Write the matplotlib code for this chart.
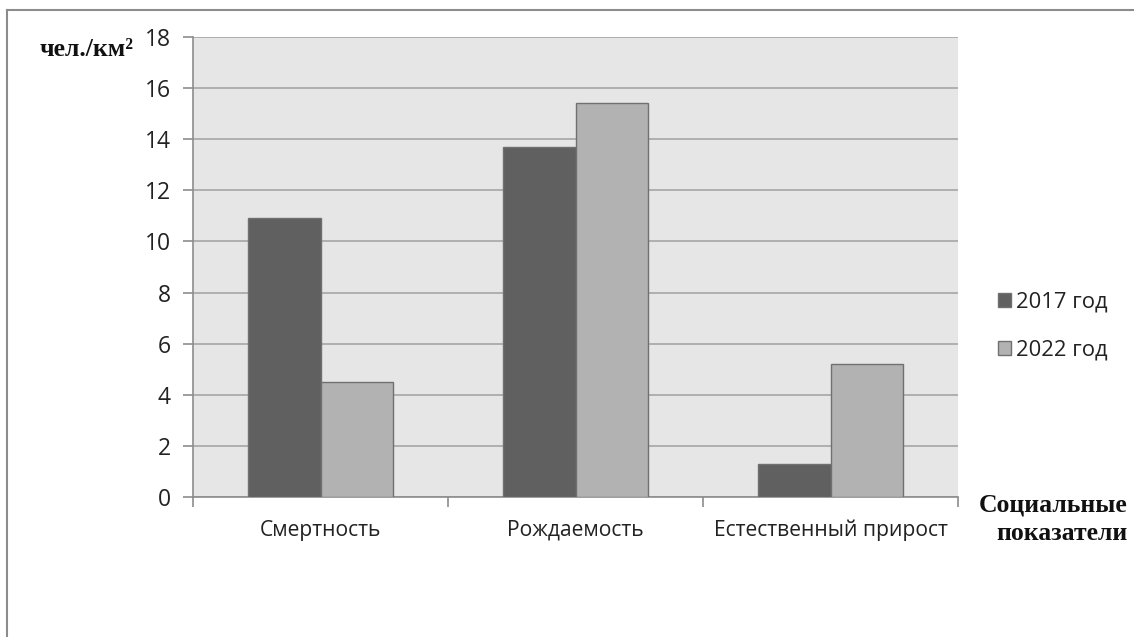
import matplotlib.pyplot as plt
import numpy as np
from matplotlib.lines import Line2D

categories = ['Смертность', 'Рождаемость', 'Естественный прирост']
values_2017 = [10.9, 13.7, 1.3]
values_2022 = [4.5, 15.4, 5.2]
series_names = ['2017 год', '2022 год']
y_ticks = [0, 2, 4, 6, 8, 10, 12, 14, 16, 18]

fig = plt.figure(figsize=(11.34, 6.37), dpi=100)
fig.patch.set_facecolor('white')

# frame of the chart area (top and left only visible)
fig.add_artist(Line2D([6.5 / 1134, 6.5 / 1134], [0, 1 - 9.5 / 637], color='#8c8c8c', lw=1.5))
fig.add_artist(Line2D([6.5 / 1134, 1], [1 - 9.5 / 637, 1 - 9.5 / 637], color='#8c8c8c', lw=1.5))

ax = fig.add_axes([193 / 1134, 1 - 497 / 637, 765 / 1134, 460 / 637])
ax.set_facecolor('#e6e6e6')

x = np.arange(len(categories))
w = 0.286
b1 = ax.bar(x - w / 2, values_2017, w, color='#606060', edgecolor='#707070', linewidth=1, label=series_names[0], zorder=3)
b2 = ax.bar(x + w / 2, values_2022, w, color='#b2b2b2', edgecolor='#707070', linewidth=1, label=series_names[1], zorder=3)

ax.set_xlim(-0.5, 2.5)
ax.set_ylim(0, 18)
ax.set_yticks(y_ticks)
ax.yaxis.grid(True, color='#a6a6a6', linewidth=1.2, zorder=0)
ax.set_axisbelow(True)

for s in ['top', 'right']:
    ax.spines[s].set_visible(False)
for s in ['left', 'bottom']:
    ax.spines[s].set_color('#8c8c8c')
    ax.spines[s].set_linewidth(1.2)

# category labels without ticks, ticks at category boundaries
ax.set_xticks([-0.5, 0.5, 1.5, 2.5])
ax.set_xticklabels([])
ax.tick_params(axis='x', direction='out', length=7, color='#8c8c8c', width=1.2)
ax.tick_params(axis='y', direction='out', length=7, color='#8c8c8c', width=1.2,
               labelsize=16.5, labelcolor='#222222', pad=9)
for lbl in ax.get_yticklabels():
    lbl.set_family('Open Sans')
for i, c in enumerate(categories):
    ax.text(i, -1.3, c, ha='center', va='center', fontsize=15.2, family='Open Sans', color='#222222')

fig.text(40 / 1134, 1 - 50 / 637, 'чел./км²', fontsize=18.5, fontweight='bold', family='Liberation Serif',
         ha='left', va='center', color='#111111')
fig.text(1128 / 1134, 1 - 505 / 637, 'Социальные', fontsize=18.5, fontweight='bold', family='Liberation Serif',
         ha='right', va='center', color='#111111')
fig.text(1128 / 1134, 1 - 533 / 637, 'показатели', fontsize=18.5, fontweight='bold', family='Liberation Serif',
         ha='right', va='center', color='#111111')

leg = fig.legend(handles=[b1, b2], loc='center left', bbox_to_anchor=(978 / 1134, 1 - 326 / 637),
                 frameon=False, prop={'family': 'Open Sans', 'size': 15.8},
                 handlelength=0.6, handleheight=0.6, handletextpad=0.25, labelspacing=1.25)
for t in leg.get_texts():
    t.set_color('#222222')

fig.savefig('out.png', dpi=100)
